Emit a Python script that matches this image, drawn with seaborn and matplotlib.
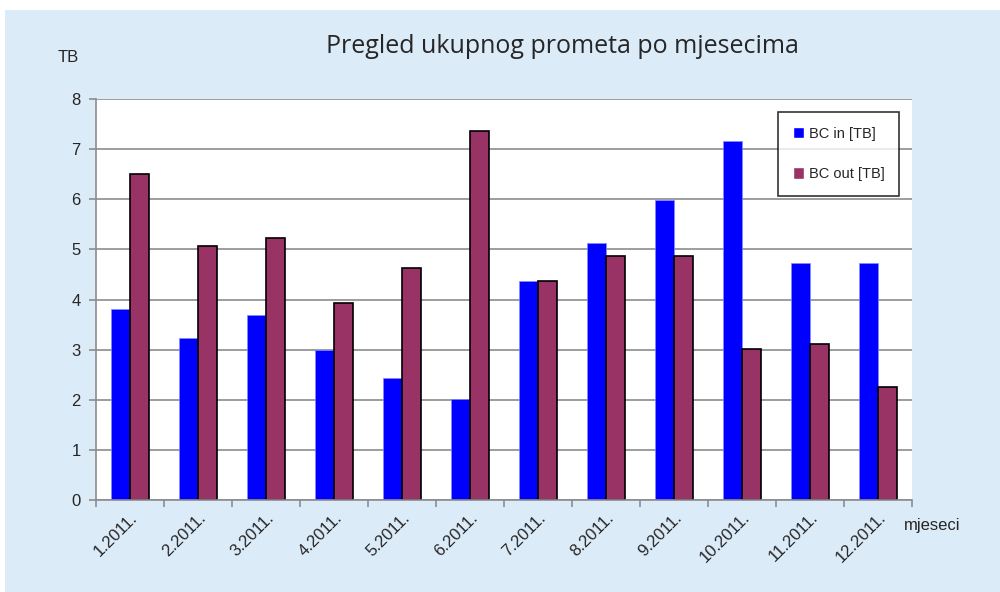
import seaborn as sns
import pandas as pd
import matplotlib.pyplot as plt
from matplotlib.patches import Rectangle

months = ["1.2011.", "2.2011.", "3.2011.", "4.2011.", "5.2011.", "6.2011.",
          "7.2011.", "8.2011.", "9.2011.", "10.2011.", "11.2011.", "12.2011."]
bc_in = [3.82, 3.23, 3.69, 2.99, 2.44, 2.01, 4.36, 5.12, 5.99, 7.17, 4.72, 4.72]
bc_out = [6.51, 5.06, 5.23, 3.94, 4.63, 7.36, 4.37, 4.86, 4.86, 3.01, 3.11, 2.26]
series = ["BC in [TB]", "BC out [TB]"]

data = pd.DataFrame({
    "mjesec": months * 2,
    "TB": bc_in + bc_out,
    "serija": [series[0]] * len(months) + [series[1]] * len(months),
})

sns.set_style("white")
plt.rcParams["font.family"] = ["Liberation Sans", "DejaVu Sans"]

fig = plt.figure(figsize=(10, 5.92), dpi=100, facecolor="#dcebf8")
fig.patches.append(Rectangle((0, 0.983), 1, 0.017, transform=fig.transFigure,
                             facecolor="white", edgecolor="none", zorder=0))
fig.patches.append(Rectangle((0, 0), 0.005, 1, transform=fig.transFigure,
                             facecolor="white", edgecolor="none", zorder=0))
ax = fig.add_axes([0.096, 0.155, 0.816, 0.678])
ax.set_facecolor("white")

sns.barplot(x="mjesec", y="TB", hue="serija", data=data, ax=ax,
            palette=["#0000ff", "#993366"], width=0.57, gap=0,
            saturation=1, dodge=True)

for bar in ax.containers[1]:
    bar.set_edgecolor("black")
    bar.set_linewidth(1.2)
for bar in ax.containers[0]:
    bar.set_edgecolor("#8888ff")
    bar.set_linewidth(0.5)

ax.set_ylim(0, 8)
ax.set_xlim(-0.5, 11.5)
ax.set_yticks(range(9))
ax.yaxis.grid(True, color="#8c8c8c", linewidth=1.2)
ax.set_axisbelow(True)
for side in ["top", "right"]:
    ax.spines[side].set_visible(False)
for side in ["left", "bottom"]:
    ax.spines[side].set_color("#8c8c8c")
    ax.spines[side].set_linewidth(1.2)

ax.set_xticks([i + 0.5 for i in range(-1, 12)], minor=True)
ax.tick_params(axis="x", which="major", length=0, labelsize=12, pad=7)
ax.tick_params(axis="x", which="minor", length=5, color="#8c8c8c", width=1.2,
               direction="out", bottom=True)
ax.tick_params(axis="y", length=5, color="#8c8c8c", width=1.2, direction="out",
               left=True, labelsize=12, pad=6)
plt.setp(ax.get_xticklabels(), rotation=45, ha="right", rotation_mode="anchor")

ax.set_xlabel("")
ax.set_ylabel("")
fig.text(0.068, 0.903, "TB", fontsize=12, ha="center", va="center")
fig.text(0.932, 0.113, "mjeseci", fontsize=12, ha="center", va="center")
fig.text(0.562, 0.922, "Pregled ukupnog prometa po mjesecima", fontsize=18,
         ha="center", va="center", family=["Open Sans", "DejaVu Sans"])

leg = ax.legend(loc="upper right", bbox_to_anchor=(0.993, 0.985), frameon=True,
                fancybox=False, edgecolor="black", fontsize=10.5,
                labelspacing=1.8, handlelength=0.8, handleheight=0.8,
                handletextpad=0.3, borderpad=1.0)
leg.get_frame().set_linewidth(1.2)

fig.savefig("out.png", dpi=100, facecolor=fig.get_facecolor())
